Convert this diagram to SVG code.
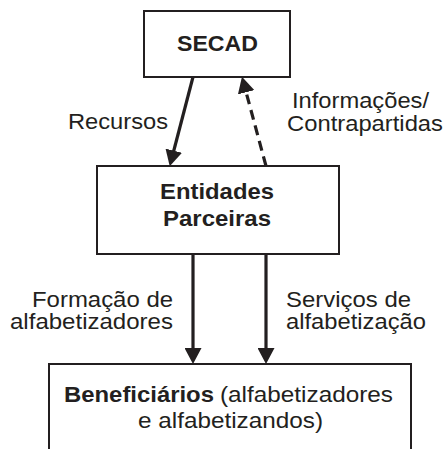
<svg xmlns="http://www.w3.org/2000/svg" width="446" height="449" viewBox="0 0 446 449">
<style>
.box{fill:#fff;stroke:#231f20;stroke-width:2}
.t{font-family:"Liberation Sans",Arial,sans-serif;font-size:21.5px;fill:#231f20}
.b{font-weight:bold}
.c{fill:none;stroke:#231f20;stroke-width:3.2}
.d{stroke-dasharray:10 6}
</style>
<defs>
<marker id="ah" markerUnits="userSpaceOnUse" viewBox="0 0 16 17" refX="7" refY="8.5" markerWidth="16" markerHeight="17" orient="auto">
<path d="M0,0 L16,8.5 L0,17 z" fill="#231f20"/>
</marker>
</defs>
<rect width="446" height="449" fill="#fff"/>
<g id="connectors">
<line class="c" x1="193" y1="77" x2="172" y2="157.5" marker-end="url(#ah)"/>
<line class="c d" x1="266" y1="166" x2="244.3" y2="85.5" marker-end="url(#ah)"/>
<line class="c" x1="193" y1="254" x2="193" y2="355" marker-end="url(#ah)"/>
<line class="c" x1="266" y1="254" x2="266" y2="355" marker-end="url(#ah)"/>
<text class="t" x="68" y="129" textLength="100" lengthAdjust="spacingAndGlyphs">Recursos</text>
<text class="t" x="292" y="108" textLength="137" lengthAdjust="spacingAndGlyphs">Informações/</text>
<text class="t" x="287" y="131" textLength="156" lengthAdjust="spacingAndGlyphs">Contrapartidas</text>
<text class="t" x="32" y="307" textLength="141" lengthAdjust="spacingAndGlyphs">Formação de</text>
<text class="t" x="10" y="329" textLength="163" lengthAdjust="spacingAndGlyphs">alfabetizadores</text>
<text class="t" x="286" y="307" textLength="125" lengthAdjust="spacingAndGlyphs">Serviços de</text>
<text class="t" x="286" y="329" textLength="140" lengthAdjust="spacingAndGlyphs">alfabetização</text>
</g>
<g id="secad">
<rect class="box" x="144" y="11" width="146" height="66"/>
<text class="t b" x="177" y="51" textLength="81" lengthAdjust="spacingAndGlyphs">SECAD</text>
</g>
<g id="entidades">
<rect class="box" x="97" y="166" width="242" height="88"/>
<text class="t b" x="160" y="199" textLength="114" lengthAdjust="spacingAndGlyphs">Entidades</text>
<text class="t b" x="163" y="226" textLength="108" lengthAdjust="spacingAndGlyphs">Parceiras</text>
</g>
<g id="beneficiarios">
<rect class="box" x="49" y="364" width="362" height="120"/>
<text class="t b" x="64" y="402" textLength="150" lengthAdjust="spacingAndGlyphs">Beneficiários</text>
<text class="t" x="220" y="402" textLength="173" lengthAdjust="spacingAndGlyphs">(alfabetizadores</text>
<text class="t" x="138" y="428" textLength="185" lengthAdjust="spacingAndGlyphs">e alfabetizandos)</text>
</g>
</svg>
